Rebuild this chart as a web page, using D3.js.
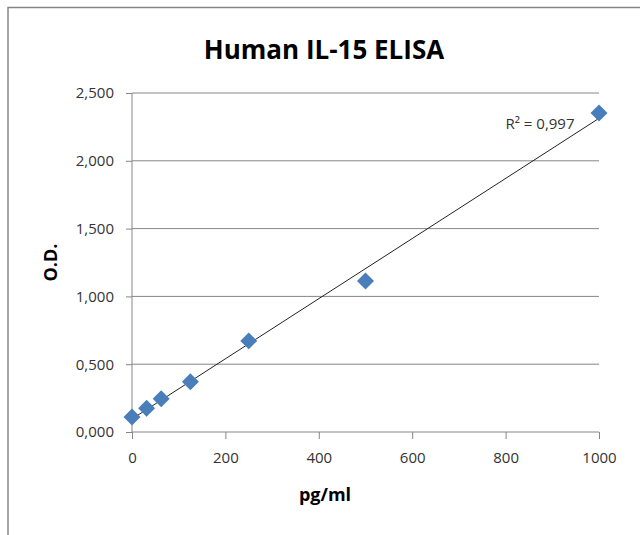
<!DOCTYPE html>
<html>
<head>
<meta charset="utf-8">
<script src="https://cdn.jsdelivr.net/npm/d3@7"></script>
<style>
  body { margin: 0; background: #fff; }
  svg { display: block; }
</style>
</head>
<body>
<script>
// standard curve points
const conc = [0, 31.25, 62.5, 125, 250, 500, 1000]
const od = [0.111, 0.175, 0.245, 0.37, 0.672, 1.114, 2.353]
const xTicks = [0, 200, 400, 600, 800, 1000]
const yTicks = [0, 0.5, 1, 1.5, 2, 2.5]
const r2Label = 'R² = 0,997'

const width = 640
const height = 535
const margin = { top: 93, right: 41, bottom: 103, left: 132 }
const font = "'Open Sans', sans-serif"
const grey = '#868686'

const svg = d3.select('body').append('svg')
  .attr('xmlns', 'http://www.w3.org/2000/svg')
  .attr('width', width)
  .attr('height', height)

// chart frame (cut off at right and bottom)
svg.append('path')
  .attr('d', `M8,${height} V7.5 H${width}`)
  .attr('fill', 'none')
  .attr('stroke', grey)
  .attr('stroke-width', 1.5)

const x = d3.scaleLinear()
  .domain([0, 1000])
  .range([margin.left, width - margin.right])

const y = d3.scaleLinear()
  .domain([0, 2.5])
  .range([height - margin.bottom, margin.top])

// excel style: decimal comma, 3 decimals
const yFormat = d => d3.format('.3f')(d).replace('.', ',')

// horizontal gridlines
svg.append('g')
  .selectAll('line')
  .data(yTicks.slice(1))
  .join('line')
  .attr('x1', x(0))
  .attr('x2', x(1000))
  .attr('y1', d => y(d))
  .attr('y2', d => y(d))
  .attr('stroke', grey)
  .attr('stroke-width', 1)

const yAxis = g => g
  .attr('transform', `translate(${x(0)},0)`)
  .call(d3.axisLeft(y).tickValues(yTicks).tickSize(6).tickPadding(12).tickFormat(yFormat))
  .call(g => g.selectAll('.domain').attr('stroke', grey).attr('d', `M0,${y(0)}V${y(2.5)}`))
  .call(g => g.selectAll('.tick line').attr('stroke', grey))
  .call(g => g.selectAll('text')
    .attr('fill', '#333')
    .style('font-family', font)
    .style('font-size', '15px'))

const xAxis = g => g
  .attr('transform', `translate(0,${y(0)})`)
  .call(d3.axisBottom(x).tickValues(xTicks).tickSize(7).tickPadding(13).tickFormat(d3.format('d')))
  .call(g => g.selectAll('.domain').attr('stroke', grey).attr('d', `M${x(0)},0H${x(1000)}`))
  .call(g => g.selectAll('.tick line').attr('stroke', grey))
  .call(g => g.selectAll('text')
    .attr('fill', '#333')
    .style('font-family', font)
    .style('font-size', '15px'))

svg.append('g').call(yAxis)
svg.append('g').call(xAxis)

// linear trendline (least squares)
const mx = d3.mean(conc)
const my = d3.mean(od)
const slope = d3.sum(conc, (c, i) => (c - mx) * (od[i] - my)) / d3.sum(conc, c => (c - mx) ** 2)
const intercept = my - slope * mx

svg.append('line')
  .attr('x1', x(0))
  .attr('y1', y(intercept))
  .attr('x2', x(1000))
  .attr('y2', y(intercept + slope * 1000))
  .attr('stroke', '#222')
  .attr('stroke-width', 1)

// markers
svg.append('g')
  .selectAll('path')
  .data(conc.map((c, i) => [c, od[i]]))
  .join('path')
  .attr('transform', d => `translate(${x(d[0])},${y(d[1])}) rotate(45)`)
  .attr('d', 'M-6,-6H6V6H-6Z')
  .attr('fill', '#4a7ebb')

// R² label
svg.append('text')
  .attr('x', 540)
  .attr('y', 129)
  .attr('text-anchor', 'middle')
  .attr('fill', '#333')
  .style('font-family', font)
  .style('font-size', '15px')
  .text(r2Label)

// title
svg.append('text')
  .attr('x', 324)
  .attr('y', 59)
  .attr('text-anchor', 'middle')
  .attr('fill', '#000')
  .style('font-family', font)
  .style('font-weight', 'bold')
  .style('font-size', '26px')
  .text('Human IL-15 ELISA')

// axis titles
svg.append('text')
  .attr('x', 325)
  .attr('y', 501)
  .attr('text-anchor', 'middle')
  .attr('fill', '#000')
  .style('font-family', font)
  .style('font-weight', 'bold')
  .style('font-size', '18px')
  .text('pg/ml')

svg.append('text')
  .attr('transform', `translate(57,${y(1.25)}) rotate(-90)`)
  .attr('text-anchor', 'middle')
  .attr('fill', '#000')
  .style('font-family', font)
  .style('font-weight', 'bold')
  .style('font-size', '18px')
  .text('O.D.')
</script>
</body>
</html>
